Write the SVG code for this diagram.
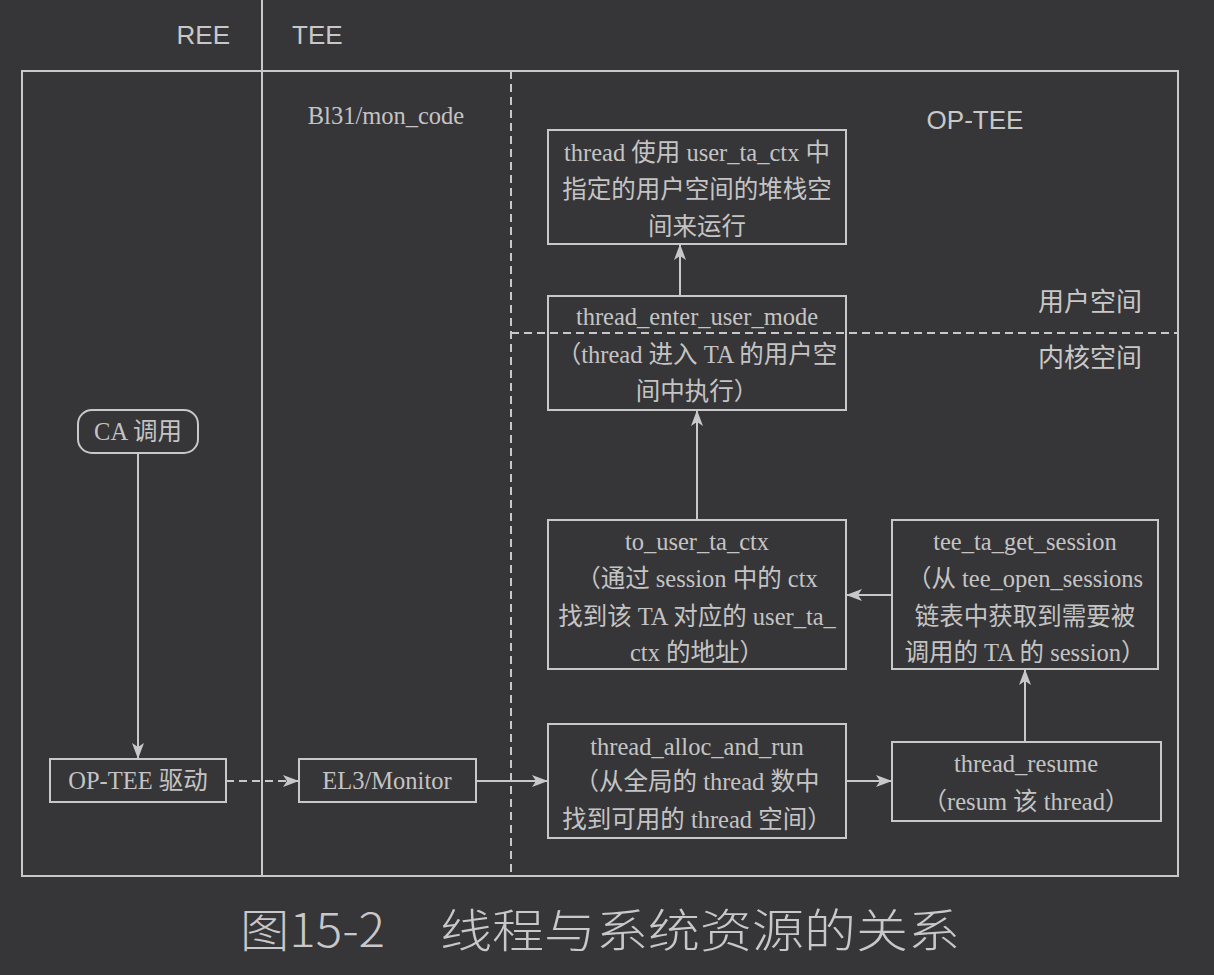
<svg xmlns="http://www.w3.org/2000/svg" width="1214" height="975" viewBox="0 0 1214 975">
<style>
.bg{fill:#363538}
.ln{fill:none;stroke:#c8c8c8;stroke-width:2}
.dl{fill:none;stroke:#c8c8c8;stroke-width:2;stroke-dasharray:8 5}
.box{fill:none;stroke:#c8c8c8;stroke-width:2}
.t{font-family:"Liberation Serif","Noto Sans CJK SC",serif;font-size:24.5px;fill:#c4c4c4;text-anchor:middle}
.s{font-family:"Liberation Sans","Noto Sans CJK SC",sans-serif;font-size:26px;fill:#c8c8c8}
.cap{font-family:"Noto Sans CJK SC",sans-serif;font-size:46px;fill:#c8c8c8;font-weight:300}
</style>
<defs>
<marker id="ah" markerWidth="16" markerHeight="12" refX="15" refY="6" orient="auto" markerUnits="userSpaceOnUse">
<path d="M0,0 L16,6 L0,12 L4,6 z" fill="#c8c8c8"/>
</marker>
</defs>
<rect class="bg" x="0" y="0" width="1214" height="975"/>
<g id="frame">
<rect class="box" x="22" y="71" width="1156" height="805"/>
<line class="ln" x1="262" y1="0" x2="262" y2="876"/>
<line class="dl" x1="511" y1="71" x2="511" y2="876"/>
<line class="dl" x1="511" y1="333" x2="1178" y2="333"/>
<text class="s" x="230" y="44" text-anchor="end">REE</text>
<text class="s" x="292" y="44">TEE</text>
<text class="t" x="386" y="124">Bl31/mon_code</text>
<text class="s" x="975" y="129" text-anchor="middle">OP-TEE</text>
<text class="s" x="1090" y="311" text-anchor="middle">用户空间</text>
<text class="s" x="1090" y="367" text-anchor="middle">内核空间</text>
</g>
<g id="n_ca">
<rect class="box" x="78" y="410" width="120" height="43" rx="14"/>
<text class="t" x="138" y="440">CA 调用</text>
</g>
<g id="n_drv">
<rect class="box" x="50" y="759" width="176" height="43"/>
<text class="t" x="138" y="789">OP-TEE 驱动</text>
</g>
<g id="n_el3">
<rect class="box" x="299" y="759" width="177" height="43"/>
<text class="t" x="387" y="789">EL3/Monitor</text>
</g>
<g id="n_stack">
<rect class="box" x="548" y="130" width="298" height="114"/>
<text class="t" x="697" y="161">thread 使用 user_ta_ctx 中</text>
<text class="t" x="697" y="198">指定的用户空间的堆栈空</text>
<text class="t" x="697" y="235">间来运行</text>
</g>
<g id="n_enter">
<rect class="box" x="548" y="296" width="298" height="114"/>
<text class="t" x="697" y="325">thread_enter_user_mode</text>
<text class="t" x="697" y="363">（thread 进入 TA 的用户空</text>
<text class="t" x="697" y="400">间中执行）</text>
</g>
<g id="n_touser">
<rect class="box" x="548" y="520" width="298" height="149"/>
<text class="t" x="697" y="550">to_user_ta_ctx</text>
<text class="t" x="697" y="587">（通过 session 中的 ctx</text>
<text class="t" x="697" y="625">找到该 TA 对应的 user_ta_</text>
<text class="t" x="697" y="661">ctx 的地址）</text>
</g>
<g id="n_getsess">
<rect class="box" x="892" y="520" width="266" height="149"/>
<text class="t" x="1025" y="550">tee_ta_get_session</text>
<text class="t" x="1025" y="587">（从 tee_open_sessions</text>
<text class="t" x="1025" y="625">链表中获取到需要被</text>
<text class="t" x="1025" y="661">调用的 TA 的 session）</text>
</g>
<g id="n_alloc">
<rect class="box" x="548" y="724" width="298" height="114"/>
<text class="t" x="697" y="755">thread_alloc_and_run</text>
<text class="t" x="697" y="790">（从全局的 thread 数中</text>
<text class="t" x="697" y="828">找到可用的 thread 空间）</text>
</g>
<g id="n_resume">
<rect class="box" x="892" y="742" width="269" height="79"/>
<text class="t" x="1026" y="772">thread_resume</text>
<text class="t" x="1026" y="810">（resum 该 thread）</text>
</g>
<g id="connectors">
<line class="ln" x1="138" y1="453" x2="138" y2="758" marker-end="url(#ah)"/>
<line class="dl" x1="226" y1="781" x2="298" y2="781" marker-end="url(#ah)"/>
<line class="ln" x1="476" y1="781" x2="547" y2="781" marker-end="url(#ah)"/>
<line class="ln" x1="846" y1="781" x2="891" y2="781" marker-end="url(#ah)"/>
<line class="ln" x1="1025" y1="742" x2="1025" y2="670" marker-end="url(#ah)"/>
<line class="ln" x1="892" y1="595" x2="847" y2="595" marker-end="url(#ah)"/>
<line class="ln" x1="697" y1="520" x2="697" y2="411" marker-end="url(#ah)"/>
<line class="ln" x1="680" y1="296" x2="680" y2="245" marker-end="url(#ah)"/>
</g>
<g id="caption">
<text class="cap" x="240" y="947" textLength="145" lengthAdjust="spacingAndGlyphs">图15-2</text>
<text class="cap" x="440" y="947" textLength="520" lengthAdjust="spacingAndGlyphs">线程与系统资源的关系</text>
</g>
</svg>
